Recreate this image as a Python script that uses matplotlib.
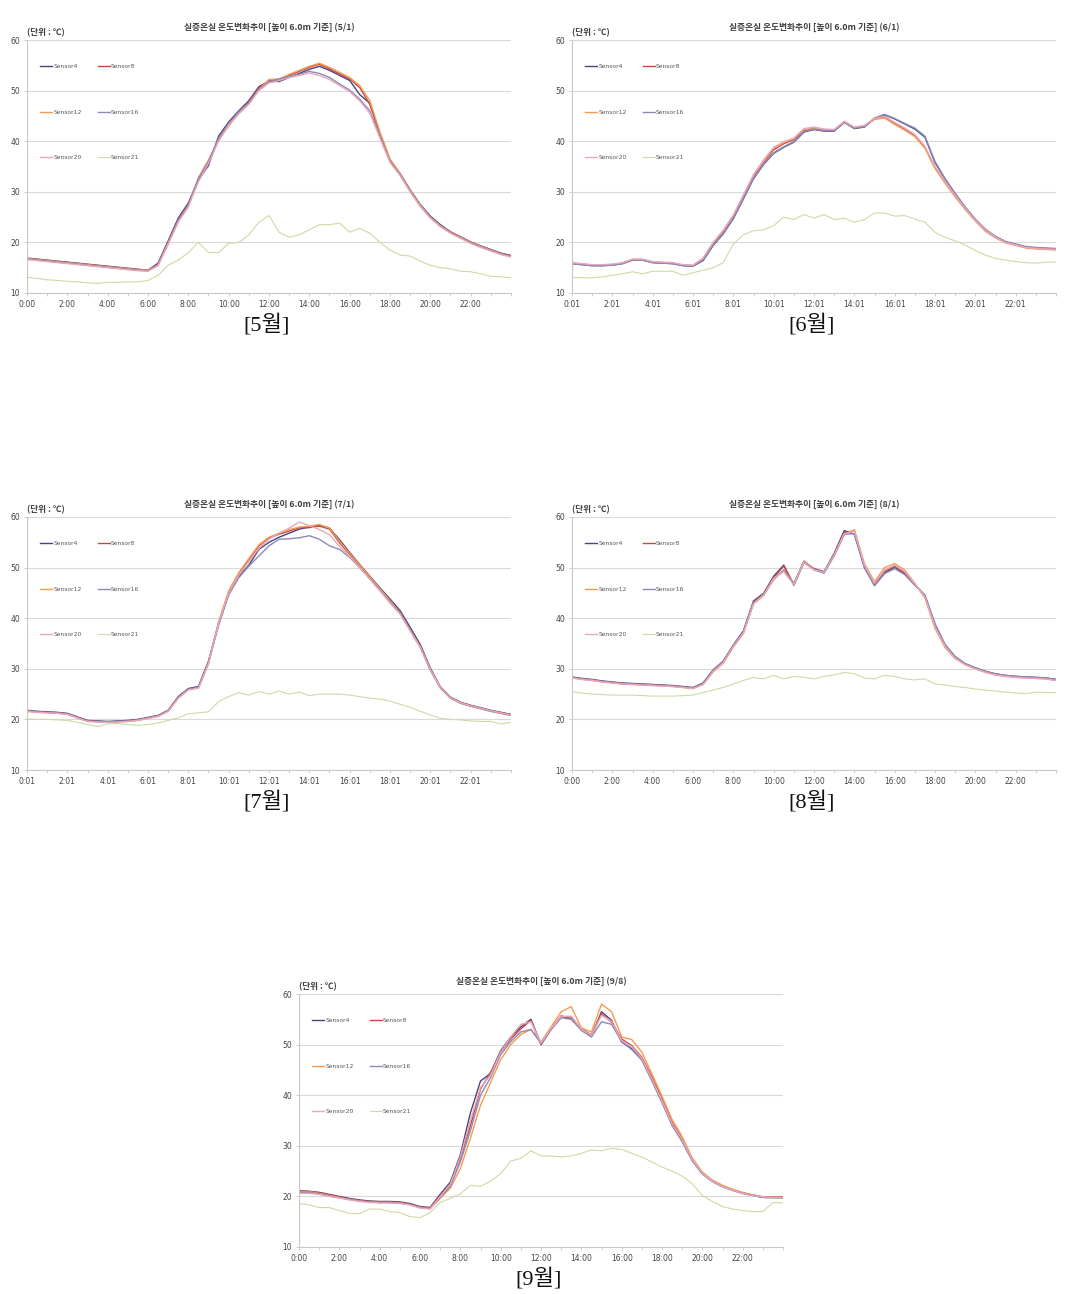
import numpy as np
import matplotlib
matplotlib.use("Agg")
import matplotlib.pyplot as plt

plt.rcParams['font.family'] = ['DejaVu Sans', 'Noto Sans CJK KR']

# half-hour readings, 0:00 .. 24:00
hours = np.arange(49) * 0.5

sensors = ['Sensor4', 'Sensor8', 'Sensor12', 'Sensor16', 'Sensor20', 'Sensor21']
colors = ['#46467e', '#c8463f', '#f59a4e', '#8a8ab8', '#eaa6bb', '#c9dca4']

# ---- 5/1 ----
may_s4 = [16.9,16.7,16.5,16.3,16.1,15.9,15.7,15.5,15.3,15.1,14.9,14.7,14.5, 15.9,20.3,24.8,27.8,32.3,35.2,41.0,43.8,46.0,48.0,50.8,51.8, 51.8,52.6,53.4,54.2,54.8,54.0,53.0,52.0,49.2,47.5,41.6,36.3, 33.6,30.4,27.5,25.2,23.5,22.1,21.1,20.1,19.3,18.6,17.9,17.4]
may_s8 = [16.8,16.6,16.4,16.2,16.0,15.8,15.6,15.4,15.2,15.0,14.8,14.6,14.5, 15.7,20.0,24.5,27.5,32.5,36.0,40.5,43.4,45.7,47.7,50.6,52.0, 52.0,53.0,53.8,54.6,55.2,54.3,53.3,52.3,50.6,47.3,41.4,36.2, 33.5,30.2,27.3,25.0,23.3,22.0,21.0,20.0,19.2,18.5,17.8,17.3]
may_s12 = [16.8,16.6,16.4,16.2,16.0,15.8,15.6,15.4,15.2,15.0,14.8,14.6,14.5, 15.5,19.6,24.2,27.2,32.8,36.3,40.2,43.0,45.5,47.5,50.2,52.2, 52.3,53.2,54.0,54.8,55.4,54.6,53.6,52.6,51.0,48.0,41.8,36.5, 33.6,30.3,27.4,25.0,23.3,22.0,21.0,20.0,19.2,18.5,17.8,17.2]
may_s16 = [16.7,16.5,16.3,16.1,15.9,15.7,15.5,15.3,15.1,14.9,14.7,14.5,14.4, 15.6,19.9,24.4,27.4,32.6,36.0,40.6,43.5,45.8,47.6,50.3,51.8, 52.3,52.8,53.2,53.8,53.4,52.6,51.3,50.1,48.3,46.0,41.0,36.0, 33.4,30.1,27.2,24.9,23.2,21.9,20.9,19.9,19.1,18.4,17.7,17.2]
may_s20 = [16.6,16.4,16.2,16.0,15.8,15.6,15.4,15.2,15.0,14.8,14.6,14.4,14.3, 15.4,19.8,24.0,27.0,32.0,35.6,40.0,43.2,45.4,47.3,50.0,51.5, 52.0,52.6,53.0,53.5,53.0,52.2,51.0,49.8,48.0,45.5,40.6,35.8, 33.2,30.0,27.1,24.8,23.1,21.8,20.8,19.8,19.0,18.3,17.6,17.1]
may_s21 = [13.1,12.9,12.6,12.5,12.3,12.2,12.0,11.9,12.1,12.1,12.2,12.2,12.5, 13.5,15.5,16.5,18.0,20.0,18.0,18.0,19.8,20.0,21.5,24.0,25.3, 22.0,21.0,21.5,22.5,23.5,23.5,23.8,22.0,22.8,21.8,20.0,18.5, 17.5,17.3,16.3,15.5,15.0,14.8,14.3,14.2,13.8,13.3,13.2,13.0]

# ---- 6/1 ----
jun_s4 = [15.8,15.6,15.4,15.4,15.5,15.8,16.5,16.5,16.0,15.9,15.8,15.4,15.3, 16.4,19.4,21.7,24.7,28.6,32.6,35.4,37.6,38.8,39.8,41.8,42.3, 42.0,42.0,43.7,42.5,42.8,44.5,45.2,44.4,43.4,42.4,40.8,35.8, 32.5,29.6,26.9,24.5,22.5,21.1,20.1,19.6,19.1,18.9,18.8,18.7]
jun_s8 = [15.9,15.7,15.5,15.5,15.6,15.9,16.6,16.6,16.1,16.0,15.9,15.5,15.4, 16.7,19.7,22.0,25.0,28.9,32.9,35.8,38.3,39.5,40.3,42.1,42.4, 42.1,42.1,43.9,42.6,42.9,44.4,44.8,43.5,42.4,41.1,38.8,34.8, 31.9,29.2,26.6,24.3,22.3,21.0,20.0,19.5,19.0,18.8,18.7,18.6]
jun_s12 = [15.9,15.7,15.5,15.5,15.6,15.9,16.6,16.6,16.1,16.0,15.9,15.5,15.4, 16.8,19.9,22.3,25.3,29.2,33.2,36.0,38.6,39.7,40.5,42.3,42.6, 42.3,42.2,43.8,42.7,43.0,44.3,44.6,43.3,42.2,40.9,38.6,34.6, 31.7,29.0,26.5,24.2,22.2,20.9,19.9,19.4,18.9,18.7,18.6,18.5]
jun_s16 = [15.8,15.6,15.4,15.4,15.5,15.8,16.5,16.5,16.0,15.9,15.8,15.4,15.3, 16.5,19.5,21.8,24.8,28.7,32.7,35.5,37.7,38.9,39.9,41.9,42.4, 42.1,42.1,43.8,42.6,42.9,44.6,45.3,44.5,43.5,42.6,41.0,36.0, 32.6,29.7,27.0,24.6,22.6,21.2,20.2,19.7,19.2,19.0,18.9,18.8]
jun_s20 = [16.0,15.8,15.6,15.6,15.7,16.0,16.7,16.7,16.2,16.1,16.0,15.6,15.5, 16.9,20.0,22.4,25.4,29.4,33.4,36.3,38.8,39.9,40.6,42.5,42.8, 42.4,42.3,43.9,42.8,43.1,44.5,44.9,43.7,42.6,41.3,39.0,35.0, 32.0,29.3,26.7,24.4,22.4,21.0,20.0,19.5,19.0,18.8,18.7,18.6]
jun_s21 = [13.1,13.0,13.0,13.2,13.5,13.8,14.2,13.8,14.3,14.3,14.3,13.5,14.0, 14.5,15.0,16.0,19.7,21.5,22.3,22.5,23.3,25.0,24.5,25.5,24.8, 25.5,24.5,24.8,24.0,24.5,25.8,25.8,25.2,25.3,24.6,24.0,22.0, 21.0,20.3,19.5,18.4,17.5,16.8,16.5,16.2,16.0,15.9,16.1,16.1]

# ---- 7/1 ----
jul_s4 = [21.8,21.6,21.5,21.4,21.2,20.5,19.8,19.7,19.6,19.7,19.8,20.0,20.4, 20.8,21.8,24.5,26.1,26.5,31.5,38.8,44.8,48.2,50.5,53.6,55.0, 56.0,56.8,57.6,58.0,58.4,57.8,55.5,53.0,50.6,48.3,46.0,43.8, 41.5,38.2,34.8,30.1,26.4,24.4,23.4,22.8,22.3,21.8,21.4,21.0]
jul_s8 = [21.7,21.5,21.4,21.3,21.1,20.4,19.7,19.6,19.5,19.6,19.7,19.9,20.3, 20.7,21.7,24.3,26.0,26.3,31.3,39.1,45.1,48.7,51.6,54.3,55.9, 56.6,57.2,57.9,57.9,58.2,57.6,54.9,52.6,50.3,48.0,45.7,43.4, 41.1,37.8,34.5,29.9,26.3,24.3,23.3,22.7,22.2,21.7,21.3,20.9]
jul_s12 = [21.6,21.4,21.3,21.2,21.0,20.3,19.6,19.5,19.4,19.5,19.6,19.8,20.2, 20.6,21.6,24.2,25.9,26.2,31.0,39.3,45.4,49.0,51.8,54.5,56.0, 56.8,57.5,58.0,58.2,58.5,57.8,55.2,52.8,50.5,48.2,45.8,43.5, 41.0,37.6,34.2,29.7,26.2,24.2,23.2,22.6,22.1,21.6,21.2,20.8]
jul_s16 = [21.7,21.5,21.4,21.3,21.1,20.4,19.7,19.6,19.5,19.6,19.7,19.9,20.3, 20.7,21.7,24.3,26.0,26.3,31.2,38.6,44.6,48.0,50.3,52.3,54.3, 55.6,55.7,55.9,56.3,55.6,54.3,53.6,52.0,50.0,47.8,45.5,43.2, 41.0,37.7,34.4,29.8,26.2,24.2,23.2,22.6,22.1,21.6,21.2,20.8]
jul_s20 = [21.6,21.4,21.3,21.2,21.0,20.3,19.6,19.5,19.4,19.5,19.6,19.8,20.2, 20.6,21.6,24.2,25.8,26.2,31.1,39.0,45.0,48.5,51.2,53.8,55.6, 56.8,57.8,59.0,58.3,57.5,56.5,54.2,52.2,50.0,47.7,45.4,43.0, 40.8,37.5,34.3,29.8,26.3,24.3,23.3,22.7,22.2,21.7,21.3,20.9]
jul_s21 = [20.1,20.0,20.0,19.9,19.8,19.4,19.0,18.6,19.1,19.2,19.0,18.8,19.0, 19.3,19.8,20.3,21.1,21.3,21.5,23.5,24.5,25.3,24.8,25.5,25.0, 25.6,25.0,25.4,24.7,25.0,25.0,25.0,24.8,24.5,24.2,24.0,23.6, 23.0,22.4,21.6,20.9,20.2,20.0,19.9,19.7,19.6,19.6,19.1,19.4]

# ---- 8/1 ----
aug_s4 = [28.4,28.1,27.9,27.6,27.4,27.2,27.1,27.0,26.9,26.8,26.7,26.5,26.3, 27.2,29.8,31.5,34.7,37.5,43.4,44.9,48.3,50.5,46.5,51.0,49.8, 49.2,52.8,57.3,56.6,50.0,46.5,49.0,50.0,48.8,46.6,44.5,38.8, 34.7,32.4,31.0,30.2,29.5,29.0,28.7,28.5,28.4,28.3,28.2,27.9]
aug_s8 = [28.3,28.0,27.8,27.5,27.3,27.1,27.0,26.9,26.8,26.7,26.6,26.4,26.2, 27.0,29.6,31.3,34.5,37.2,43.1,44.7,48.0,50.3,46.7,51.3,49.7, 49.0,52.6,56.9,57.3,50.3,46.7,49.3,50.3,49.0,46.7,44.4,38.5, 34.5,32.2,30.9,30.1,29.4,28.9,28.6,28.4,28.3,28.2,28.1,27.8]
aug_s12 = [28.2,27.9,27.7,27.4,27.2,27.0,26.9,26.8,26.7,26.6,26.5,26.3,26.1, 26.9,29.4,31.1,34.3,37.0,42.8,44.5,47.6,49.5,46.9,51.0,49.5, 49.0,52.3,56.5,57.5,50.8,47.2,50.0,50.8,49.5,46.9,44.0,38.0, 34.2,32.0,30.8,30.0,29.3,28.8,28.5,28.3,28.2,28.1,28.0,27.7]
aug_s16 = [28.3,28.0,27.8,27.5,27.3,27.1,27.0,26.9,26.8,26.7,26.6,26.4,26.2, 27.1,29.7,31.4,34.6,37.3,43.0,44.6,47.8,49.5,46.8,51.2,49.6, 48.9,52.4,56.6,56.7,50.1,46.4,48.8,49.8,48.6,46.5,44.6,38.9, 34.8,32.4,31.0,30.2,29.5,29.0,28.7,28.5,28.4,28.3,28.2,27.9]
aug_s20 = [28.2,27.9,27.7,27.4,27.2,27.0,26.9,26.8,26.7,26.6,26.5,26.3,26.1, 26.9,29.5,31.2,34.4,37.1,42.9,44.6,47.9,49.2,46.6,51.1,49.6, 49.1,52.5,56.7,57.2,50.5,46.9,49.5,50.5,49.2,46.8,44.2,38.3, 34.4,32.1,30.8,30.0,29.3,28.8,28.5,28.3,28.2,28.1,28.0,27.7]
aug_s21 = [25.5,25.2,25.0,24.9,24.8,24.8,24.8,24.7,24.6,24.6,24.6,24.7,24.8, 25.3,25.8,26.3,27.0,27.7,28.3,28.0,28.7,28.0,28.5,28.3,28.0, 28.5,28.8,29.3,29.0,28.2,28.0,28.7,28.5,28.0,27.8,28.0,27.0, 26.8,26.5,26.3,26.0,25.8,25.6,25.4,25.2,25.1,25.4,25.3,25.3]

# ---- 9/8 ----
sep_s4 = [21.1,21.0,20.8,20.4,20.0,19.6,19.3,19.1,19.0,19.0,18.9,18.6,18.0, 17.8,20.4,22.8,28.2,36.5,42.8,44.3,48.8,51.5,53.5,55.0,50.0, 53.0,55.5,55.5,53.0,51.6,56.5,54.8,50.5,49.2,47.0,43.0,38.8, 34.2,31.0,27.2,24.6,23.0,22.0,21.2,20.6,20.2,19.8,19.8,19.8]
sep_s8 = [21.0,21.0,20.7,20.3,19.9,19.5,19.2,19.0,18.9,18.9,18.8,18.5,17.9, 17.7,20.1,22.2,27.4,34.0,41.2,44.5,48.5,51.1,53.1,54.8,50.1, 53.1,55.7,55.1,53.1,51.9,56.1,54.4,51.1,49.8,47.5,43.6,39.3, 34.7,31.4,27.4,24.7,23.1,22.1,21.3,20.7,20.3,19.9,19.9,19.9]
sep_s12 = [20.9,20.9,20.6,20.2,19.8,19.4,19.1,18.9,18.8,18.8,18.7,18.4,17.8, 17.6,19.6,21.6,25.5,31.5,38.0,42.5,47.0,50.0,52.0,53.0,50.5, 53.5,56.5,57.5,53.3,52.5,58.0,56.5,51.5,51.0,48.5,44.2,39.8, 35.2,31.8,27.6,24.8,23.2,22.2,21.4,20.8,20.3,19.9,19.8,19.8]
sep_s16 = [20.8,20.8,20.5,20.1,19.7,19.4,19.1,18.9,18.8,18.8,18.7,18.4,17.8, 17.6,19.8,22.0,26.8,33.0,40.0,43.5,48.0,50.6,52.5,53.0,50.2, 53.0,55.3,55.0,52.8,51.5,54.5,54.0,50.6,49.0,47.0,42.8,38.5, 34.0,30.8,27.0,24.4,22.9,21.9,21.2,20.6,20.2,19.8,19.7,19.7]
sep_s20 = [20.6,20.6,20.4,20.0,19.7,19.3,19.0,18.8,18.7,18.7,18.6,18.3,17.7, 17.5,20.0,22.4,27.8,35.0,41.5,44.0,48.5,51.5,54.0,54.5,50.3, 53.2,55.6,55.6,53.0,51.8,55.8,54.6,50.8,49.6,47.3,43.2,38.9, 34.4,31.2,27.3,24.6,23.0,22.0,21.2,20.6,20.2,19.9,19.8,19.8]
sep_s21 = [18.6,18.3,17.8,17.8,17.2,16.6,16.6,17.5,17.5,17.0,16.8,16.0,15.8, 16.8,18.8,19.6,20.5,22.2,22.0,23.0,24.5,27.0,27.5,29.0,28.0, 28.0,27.8,28.0,28.5,29.2,29.0,29.5,29.3,28.5,27.8,26.8,25.8, 25.0,24.0,22.5,20.2,19.0,18.0,17.5,17.2,17.0,17.0,18.8,18.7]

labels_00 = ['0:00', '2:00', '4:00', '6:00', '8:00', '10:00', '12:00', '14:00', '16:00', '18:00', '20:00', '22:00']
labels_01 = ['0:01', '2:01', '4:01', '6:01', '8:01', '10:01', '12:01', '14:01', '16:01', '18:01', '20:01', '22:01']

titles = ['(5/1)', '(6/1)', '(7/1)', '(8/1)', '(9/8)']
captions = ['[5월]', '[6월]', '[7월]', '[8월]', '[9월]']
panel_data = [
    [may_s4, may_s8, may_s12, may_s16, may_s20, may_s21],
    [jun_s4, jun_s8, jun_s12, jun_s16, jun_s20, jun_s21],
    [jul_s4, jul_s8, jul_s12, jul_s16, jul_s20, jul_s21],
    [aug_s4, aug_s8, aug_s12, aug_s16, aug_s20, aug_s21],
    [sep_s4, sep_s8, sep_s12, sep_s16, sep_s20, sep_s21],
]
panel_xlabels = [labels_00, labels_01, labels_01, labels_00, labels_00]

W, H = 1067, 1294
# axes boxes in pixels: left, top, right, bottom
boxes = [(27, 40, 511, 293), (572, 40, 1056, 293),
         (27, 517, 511, 770), (572, 517, 1056, 770),
         (299, 994, 783, 1247)]

fig = plt.figure(figsize=(W / 100, H / 100), dpi=100)

for i, (l, t, r, b) in enumerate(boxes):
    ax = fig.add_axes([l / W, 1 - b / H, (r - l) / W, (b - t) / H])
    lines = []
    for j, name in enumerate(sensors):
        lw = 0.8 if j == 5 else 1.0
        ln, = ax.plot(hours, panel_data[i][j], color=colors[j], lw=lw, label=name)
        lines.append(ln)

    ax.set_xlim(0, 24)
    ax.set_ylim(10, 60)
    ax.set_yticks([10, 20, 30, 40, 50, 60])
    ax.set_xticks(np.arange(0, 24, 2))
    ax.set_xticks(np.arange(0, 25, 1), minor=True)
    ax.set_xticklabels(panel_xlabels[i])
    ax.grid(axis='y', color='#d9d9d9', lw=0.8)
    ax.set_axisbelow(True)
    for s in ['top', 'right']:
        ax.spines[s].set_visible(False)
    ax.spines['left'].set_color('#c8c8c8')
    ax.spines['bottom'].set_color('#c8c8c8')
    ax.tick_params(axis='both', which='both', labelsize=5.5, colors='#c8c8c8',
                   labelcolor='#444444', length=2, width=0.6, pad=3)

    # legend: rows Sensor4/8, 12/16, 20/21
    order = [0, 2, 4, 1, 3, 5]
    ax.legend([lines[k] for k in order], [sensors[k] for k in order],
              ncol=2, loc='upper left', bbox_to_anchor=(0.027, 0.904),
              frameon=False, fontsize=4.3, borderpad=0, borderaxespad=0,
              handlelength=2.0, handletextpad=0.2, columnspacing=2.7,
              labelspacing=6.75, labelcolor='#555555')

    ax.text(0.5, 1.05, '실증온실 온도변화추이 [높이 6.0m 기준] ' + titles[i],
            transform=ax.transAxes, ha='center', va='center', fontsize=6.3,
            fontweight='bold', color='#404040',
            family=['Noto Sans CJK KR', 'DejaVu Sans'])
    ax.text(0.0, 1.027, '(단위 : ℃)', transform=ax.transAxes, ha='left',
            va='center', fontsize=6.2, fontweight='bold', color='#404040',
            family=['Noto Sans CJK KR', 'DejaVu Sans'])
    ax.text(0.495, -0.125, captions[i], transform=ax.transAxes, ha='center',
            va='center', fontsize=16, color='#111111',
            family=['Liberation Serif', 'Noto Sans CJK KR'])

fig.savefig('out.png', dpi=100)
